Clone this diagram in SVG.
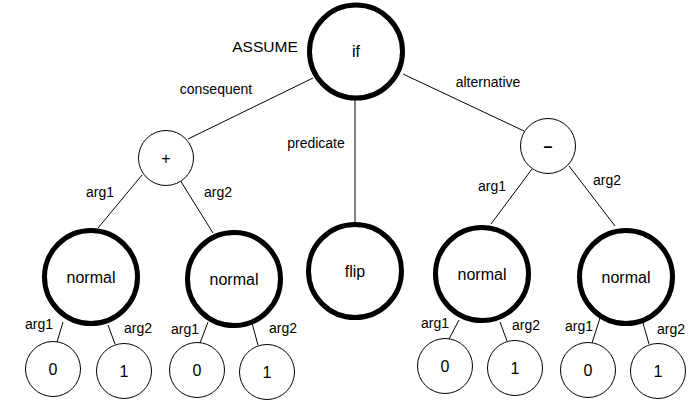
<svg xmlns="http://www.w3.org/2000/svg" width="700" height="400" viewBox="0 0 700 400">
<style>
text{font-family:"Liberation Sans",Arial,Helvetica,sans-serif;fill:#000;text-anchor:middle}
.lbl{font-size:14px}
.nt{font-size:16px}
.big{fill:#fff;stroke:#000;stroke-width:5}
.small{fill:#fff;stroke:#000;stroke-width:1}
#edges line{stroke:#000;stroke-width:1}
</style>
<rect width="700" height="400" fill="#fff"/>
<g id="edges">
<line x1="313" y1="78" x2="188" y2="139"/>
<line x1="403" y1="74" x2="524" y2="131"/>
<line x1="355" y1="100" x2="355" y2="223"/>
<line x1="142" y1="175" x2="98" y2="228"/>
<line x1="180" y1="180" x2="213" y2="233"/>
<line x1="532" y1="169" x2="491" y2="224"/>
<line x1="569" y1="166" x2="615" y2="226"/>
<line x1="63" y1="322" x2="57" y2="342"/>
<line x1="108" y1="325" x2="115" y2="344"/>
<line x1="208" y1="322" x2="200" y2="343"/>
<line x1="252" y1="323" x2="258" y2="345"/>
<line x1="459" y1="320" x2="449" y2="339"/>
<line x1="500" y1="322" x2="507" y2="341"/>
<line x1="600" y1="318" x2="592" y2="343"/>
<line x1="643" y1="323" x2="649" y2="344"/>
</g>
<g id="edge-labels">
<text class="lbl" x="216" y="94">consequent</text>
<text class="lbl" x="488" y="87">alternative</text>
<text class="lbl" x="316" y="148">predicate</text>
<text class="lbl" x="100" y="197">arg1</text>
<text class="lbl" x="218" y="197">arg2</text>
<text class="lbl" x="492" y="191">arg1</text>
<text class="lbl" x="607" y="185">arg2</text>
<text class="lbl" x="39" y="329">arg1</text>
<text class="lbl" x="138" y="333">arg2</text>
<text class="lbl" x="185" y="334">arg1</text>
<text class="lbl" x="283" y="333">arg2</text>
<text class="lbl" x="435" y="328">arg1</text>
<text class="lbl" x="526" y="330">arg2</text>
<text class="lbl" x="579" y="331">arg1</text>
<text class="lbl" x="671" y="334">arg2</text>
</g>
<g id="n-if"><circle class="big" cx="356" cy="51.5" r="46.5"/><text class="nt" x="356" y="57">if</text></g>
<text id="assume" x="265" y="52" style="font-size:15.5px">ASSUME</text>
<g id="n-plus"><circle class="small" cx="166" cy="158" r="27.5"/><text class="nt" x="166" y="164">+</text></g>
<g id="n-minus"><circle class="small" cx="548" cy="146" r="27.5"/><text class="nt" x="548" y="152" font-weight="bold">–</text></g>
<g id="n-flip"><circle class="big" cx="355" cy="271" r="46.5"/><text class="nt" x="355" y="277">flip</text></g>
<g id="n-normal1"><circle class="big" cx="91" cy="277" r="46.5"/><text class="nt" x="91" y="283">normal</text></g>
<g id="n-normal2"><circle class="big" cx="234" cy="279" r="46.5"/><text class="nt" x="234" y="285">normal</text></g>
<g id="n-normal3"><circle class="big" cx="482" cy="274" r="46.5"/><text class="nt" x="482" y="280">normal</text></g>
<g id="n-normal4"><circle class="big" cx="626" cy="277" r="46.5"/><text class="nt" x="626" y="283">normal</text></g>
<g id="n-l1"><circle class="small" cx="53" cy="369" r="27.5"/><text class="nt" x="53" y="375">0</text></g>
<g id="n-l2"><circle class="small" cx="124" cy="371" r="27.5"/><text class="nt" x="124" y="377">1</text></g>
<g id="n-l3"><circle class="small" cx="197" cy="370" r="27.5"/><text class="nt" x="197" y="376">0</text></g>
<g id="n-l4"><circle class="small" cx="267" cy="372" r="27.5"/><text class="nt" x="267" y="378">1</text></g>
<g id="n-l5"><circle class="small" cx="445" cy="366" r="27.5"/><text class="nt" x="445" y="372">0</text></g>
<g id="n-l6"><circle class="small" cx="515" cy="368" r="27.5"/><text class="nt" x="515" y="374">1</text></g>
<g id="n-l7"><circle class="small" cx="588" cy="370" r="27.5"/><text class="nt" x="588" y="376">0</text></g>
<g id="n-l8"><circle class="small" cx="658" cy="371" r="27.5"/><text class="nt" x="658" y="377">1</text></g>
</svg>
